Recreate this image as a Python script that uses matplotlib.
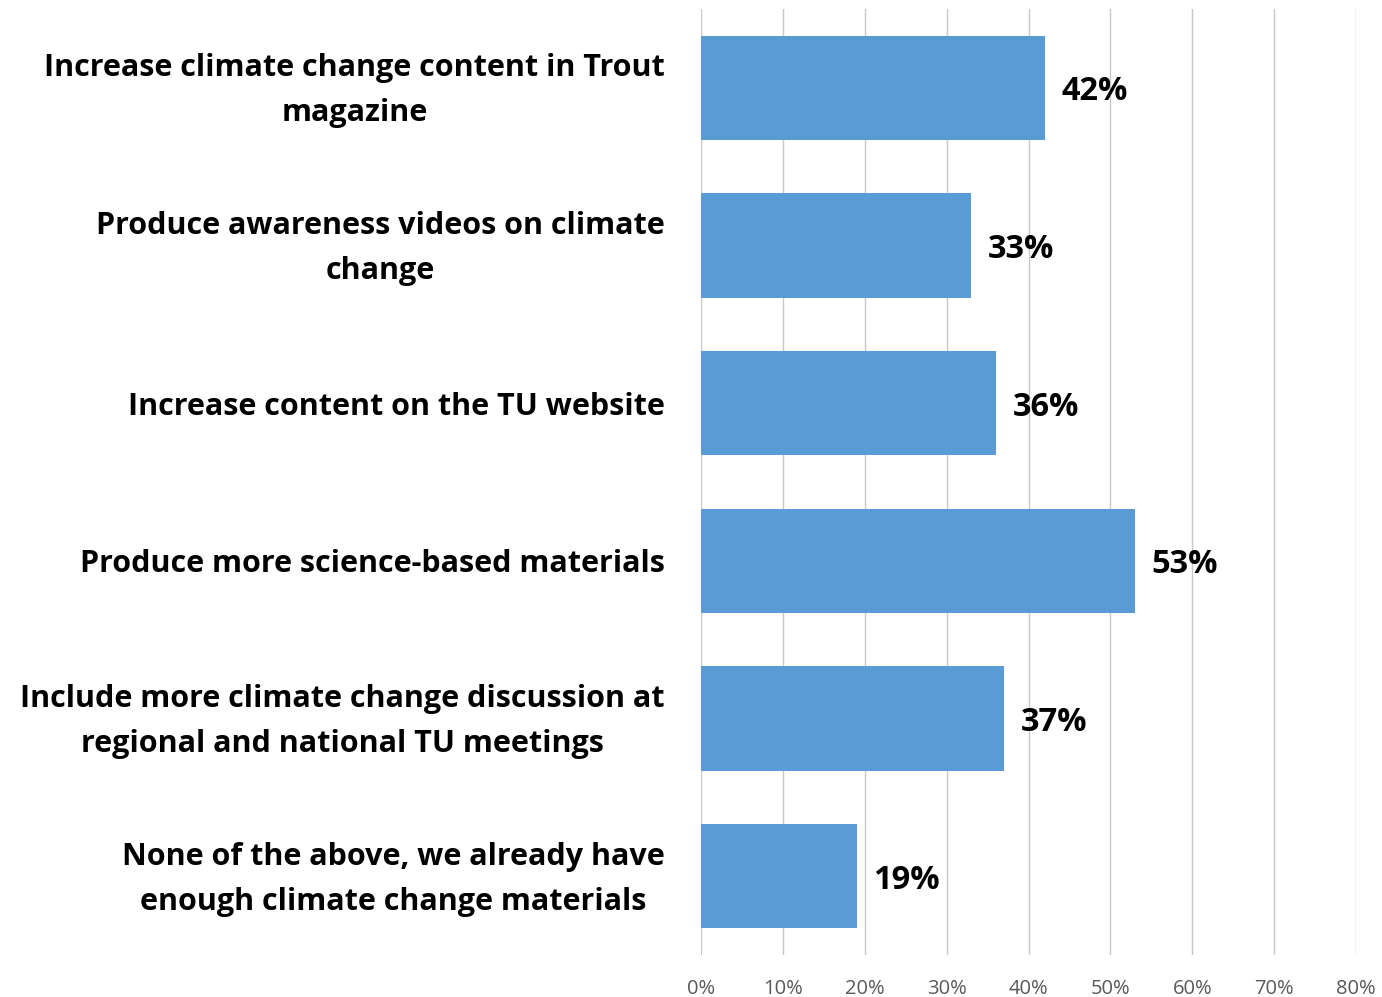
import matplotlib
matplotlib.use("Agg")
import matplotlib.pyplot as plt
import matplotlib.transforms as mtransforms
from matplotlib.ticker import MultipleLocator, PercentFormatter

categories = [
    "Increase climate change content in Trout\nmagazine",
    "Produce awareness videos on climate\nchange",
    "Increase content on the TU website",
    "Produce more science-based materials",
    "Include more climate change discussion at\nregional and national TU meetings",
    "None of the above, we already have\nenough climate change materials",
]
values = [42, 33, 36, 53, 37, 19]

plt.rcParams['font.family'] = ['Open Sans', 'DejaVu Sans']

fig = plt.figure(figsize=(13.82, 9.97), dpi=100)
ax = fig.add_axes([701/1382, 1-955/997, (1356-701)/1382, (955-9)/997])

y = list(range(len(categories)))
ax.barh(y, values, height=0.66, color='#5B9BD5', zorder=3)
ax.set_ylim(len(categories) - 0.5, -0.5)
ax.set_xlim(0, 80)
ax.xaxis.set_major_locator(MultipleLocator(10))
ax.xaxis.set_major_formatter(PercentFormatter(decimals=0))
ax.grid(axis='x', color='#c8c8c8', linewidth=1.0, zorder=0)
for s in ax.spines.values():
    s.set_visible(False)
ax.tick_params(axis='both', length=0)
ax.tick_params(axis='x', labelsize=14.5, labelcolor='#595959', pad=17)
ax.set_yticks(y)
ax.set_yticklabels(categories, fontsize=22, fontweight='bold', multialignment='center', linespacing=1.65)
ax.tick_params(axis='y', pad=26)

shift = mtransforms.ScaledTranslation(0, 0.08, fig.dpi_scale_trans)
for lab in ax.get_yticklabels():
    if "\n" in lab.get_text():
        lab.set_transform(lab.get_transform() + shift)

for yi, v in zip(y, values):
    ax.annotate(f"{v}%", (v, yi), xytext=(12, 0), textcoords='offset points',
                va='center_baseline', ha='left', fontsize=23.5, fontweight='bold', color='black')

fig.savefig("out.png", dpi=100)
